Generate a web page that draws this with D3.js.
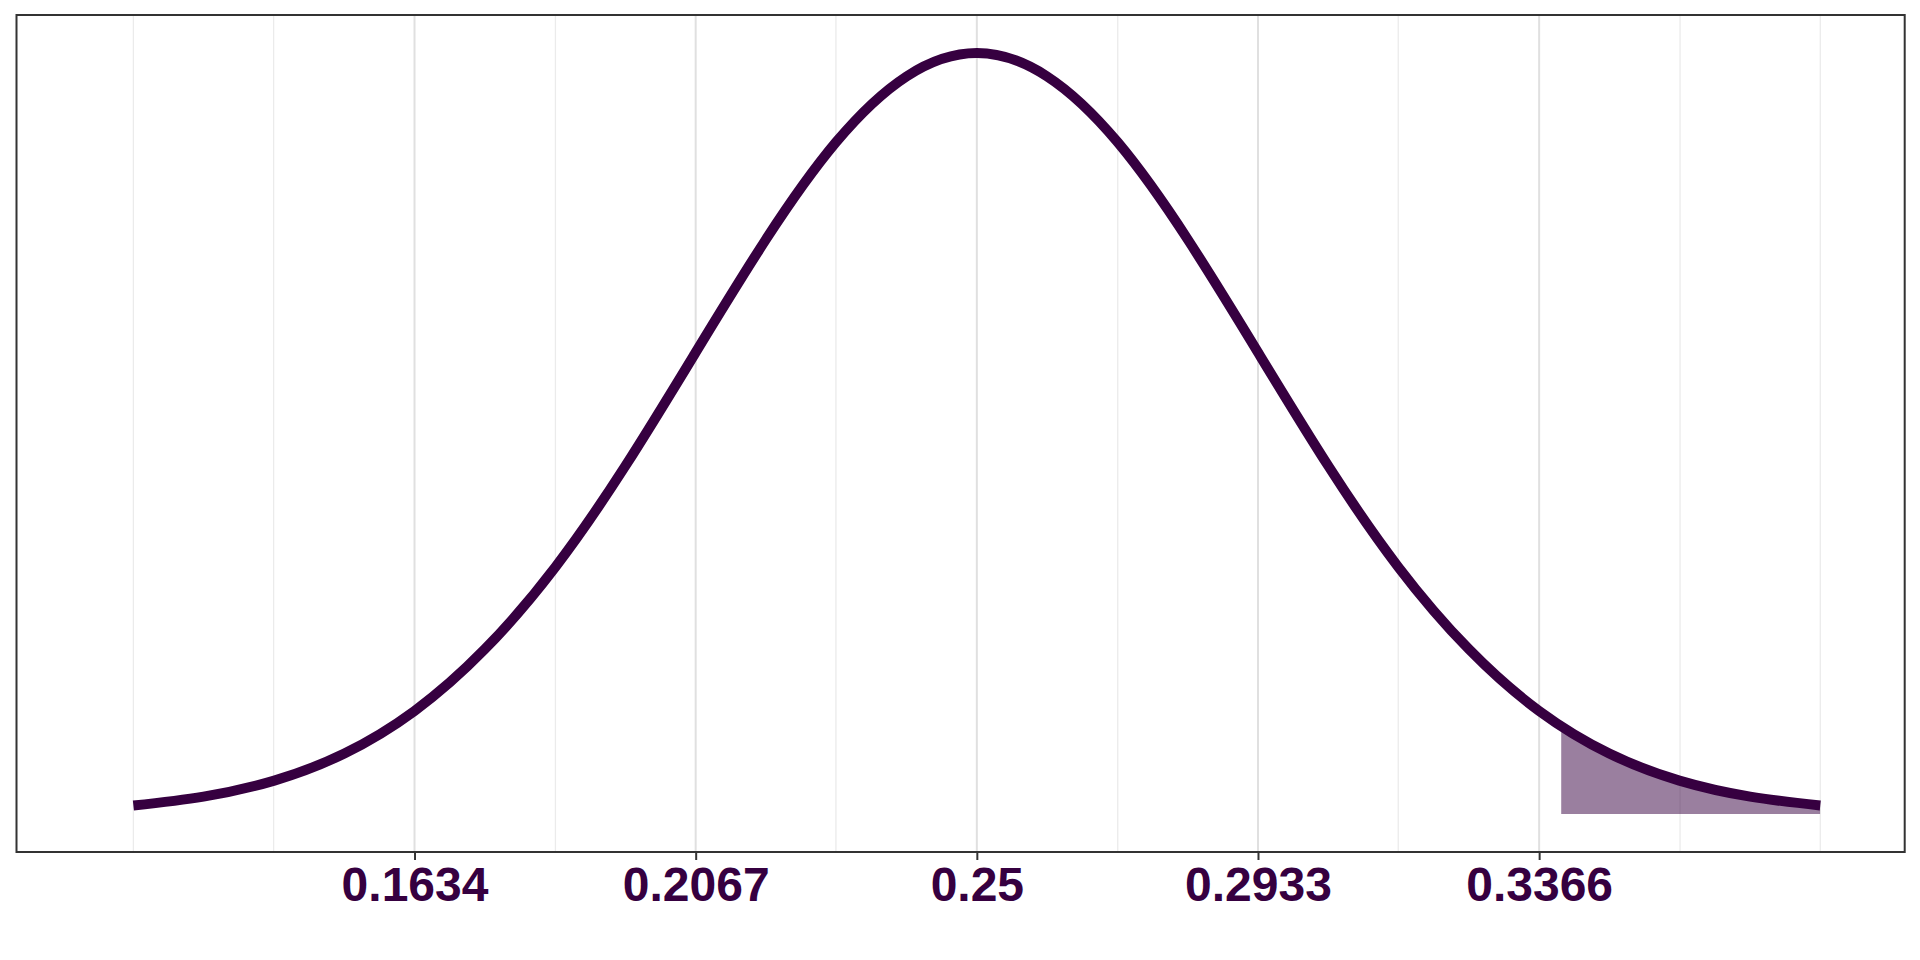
<!DOCTYPE html>
<meta charset='utf-8'>
<style>
    body { margin: 0; background: #fff; }

    .grid-major {
        stroke: #e0e0e0;
        stroke-width: 2;
    }

    .grid-minor {
        stroke: #ebebeb;
        stroke-width: 1.3;
    }

    .curve {
        fill: none;
        stroke: #360040;
        stroke-width: 10;
    }

    .tail {
        fill: #360040;
        fill-opacity: 0.5;
    }

    .frame {
        fill: none;
        stroke: #333;
        stroke-width: 2;
    }

    .x-axis line { stroke: #333; stroke-width: 2; }
    .x-axis text {
        font-family: "Liberation Sans", Arial, sans-serif;
        font-weight: bold;
        font-size: 48px;
        fill: #360040;
    }
</style>

<svg width="1920" height="960"></svg>
<script src="https://d3js.org/d3.v7.min.js"></script>

<script>

// sampling distribution of the proportion
var propValues = [0.1201, 0.1309, 0.1418, 0.1526, 0.1634, 0.1742, 0.1851, 0.1959, 0.2067,
                  0.2175, 0.2283, 0.2392, 0.25, 0.2608, 0.2717, 0.2825, 0.2933, 0.3041,
                  0.3149, 0.3258, 0.3366, 0.3474, 0.3582, 0.3691, 0.3799];
var density = [0.102, 0.210, 0.404, 0.732, 1.247, 1.993, 2.991, 4.217, 5.589,
               6.954, 8.132, 8.931, 9.213, 8.931, 8.132, 6.954, 5.589, 4.217,
               2.991, 1.993, 1.247, 0.732, 0.404, 0.210, 0.102];

var tickValues = [0.1634, 0.2067, 0.25, 0.2933, 0.3366];
var tickLabels = ['0.1634', '0.2067', '0.25', '0.2933', '0.3366'];
var minorGrid = [0.1201, 0.1417, 0.1851, 0.2283, 0.2717, 0.3149, 0.3583, 0.3799];

var tailFrom = 0.34,
    tailTo = 0.3799;

var svg = d3.select('svg'),
    panelL = 16.5, panelR = 1904.7, panelT = 15, panelB = 852;

var x = d3.scaleLinear()
    .domain([0.1021, 0.3929])
    .range([panelL, panelR]);

var peak = d3.max(density);
var y = d3.scaleLinear()
    .domain([-0.05 * peak, 1.05 * peak])
    .range([panelB, panelT]);

var pts = propValues.map(function(p, i) { return {p: p, d: density[i]}; });

// grid
svg.append('g').selectAll('line')
    .data(minorGrid)
    .enter().append('line')
     .attr('class', 'grid-minor')
     .attr('x1', x).attr('x2', x)
     .attr('y1', panelT).attr('y2', panelB);

svg.append('g').selectAll('line')
    .data(tickValues)
    .enter().append('line')
     .attr('class', 'grid-major')
     .attr('x1', x).attr('x2', x)
     .attr('y1', panelT).attr('y2', panelB);

// shaded tail
svg.append('clipPath')
    .attr('id', 'tail-clip')
  .append('rect')
    .attr('x', x(tailFrom))
    .attr('width', x(tailTo) - x(tailFrom))
    .attr('y', panelT)
    .attr('height', panelB - panelT);

var area = d3.area()
    .x(function(d) { return x(d.p); })
    .y0(y(0))
    .y1(function(d) { return y(d.d); })
    .curve(d3.curveNatural);

svg.append('path')
    .datum(pts)
    .attr('class', 'tail')
    .attr('clip-path', 'url(#tail-clip)')
    .attr('d', area);

var line = d3.line()
    .x(function(d) { return x(d.p); })
    .y(function(d) { return y(d.d); })
    .curve(d3.curveNatural);

svg.append('path')
    .datum(pts)
    .attr('class', 'curve')
    .attr('d', line);

// axis
var axis = svg.append('g')
    .attr('class', 'x-axis')
    .attr('transform', 'translate(0,' + panelB + ')')
    .call(d3.axisBottom(x)
        .tickValues(tickValues)
        .tickFormat(function(d, i) { return tickLabels[i]; })
        .tickSize(8)
        .tickPadding(7));
axis.select('.domain').remove();

svg.append('rect')
    .attr('class', 'frame')
    .attr('x', panelL)
    .attr('y', panelT)
    .attr('width', panelR - panelL)
    .attr('height', panelB - panelT);
</script>
